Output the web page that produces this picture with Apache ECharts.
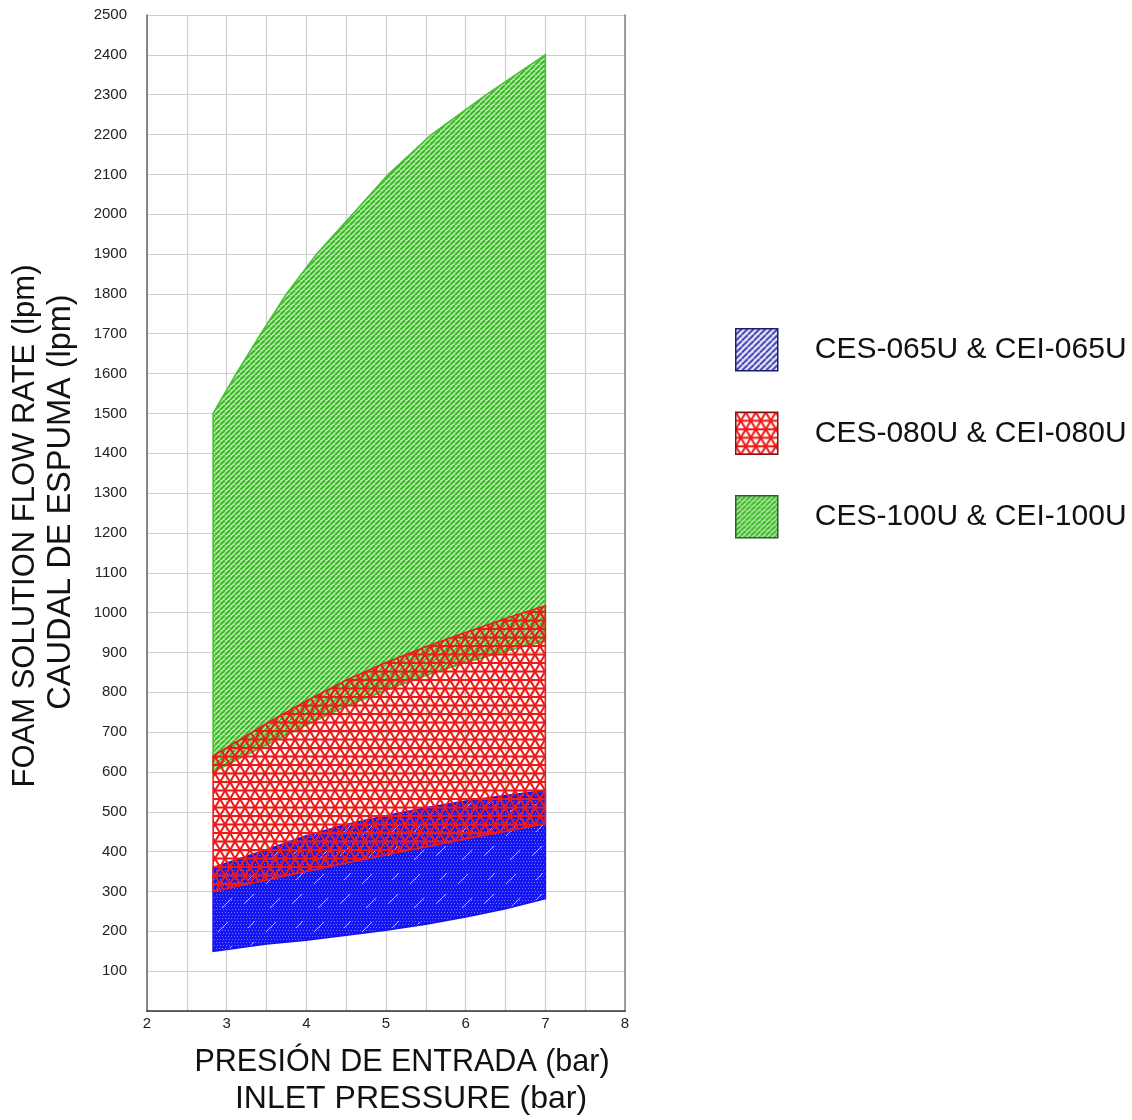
<!DOCTYPE html>
<html><head><meta charset="utf-8">
<script src="https://cdn.jsdelivr.net/npm/echarts@6/dist/echarts.min.js"></script>
<style>html,body{margin:0;padding:0;background:#fff}#c{width:1132px;height:1120px}</style>
</head><body><div id="c"></div>
<script>
// ---- data ----
const seriesNames = ['CES-065U & CEI-065U', 'CES-080U & CEI-080U', 'CES-100U & CEI-100U'];
// [inlet pressure (bar), flow (lpm)]
const blueTop    = [[2.83,360],[3.5,405],[4,440],[4.5,468],[5,490],[5.5,510],[6,527],[6.5,541],[7,553]];
const blueBottom = [[2.83,150],[3.5,168],[4,178],[4.5,190],[5,203],[5.5,218],[6,236],[6.5,257],[7,282]];
const redTop     = [[2.83,640],[3.5,722],[4,778],[4.5,830],[5,875],[5.5,914],[6,950],[6.5,985],[7,1017]];
const redBottom  = [[2.83,300],[4,350],[5,392],[6,432],[7,470]];
const greenTop   = [[2.83,1500],[3.12,1600],[3.43,1700],[3.75,1800],[4.13,1900],[4.58,2000],[5.03,2100],[5.57,2200],[6.26,2300],[7,2400]];
const greenBottom= [[2.83,600],[3.5,668],[4,718],[4.5,765],[5,805],[5.5,842],[6,875],[6.5,903],[7,929]];
const xTickLabels = ['2','3','4','5','6','7','8'];
const yTickLabels = ['100','200','300','400','500','600','700','800','900','1000','1100','1200','1300','1400','1500','1600','1700','1800','1900','2000','2100','2200','2300','2400','2500'];
const xTitleLines = ['PRESIÓN DE ENTRADA (bar)', 'INLET PRESSURE (bar)'];
const yTitleLines = ['FOAM SOLUTION FLOW RATE (lpm)', 'CAUDAL DE ESPUMA (lpm)'];

// ---- hatch patterns ----
function makeCanvas(w, h, draw) {
  const c = document.createElement('canvas'); c.width = w; c.height = h;
  draw(c.getContext('2d'), w, h); return c;
}
const greenCanvas = makeCanvas(5, 5, (g, w, h) => {
  g.fillStyle = '#cdeec4'; g.fillRect(0, 0, w, h);
  g.strokeStyle = '#3dbd28'; g.lineWidth = 2.3;
  for (let k = -1; k <= 1; k++) { g.beginPath(); g.moveTo(k * w, h); g.lineTo(k * w + w, 0); g.stroke(); }
});
const redCanvas = makeCanvas(10, 17, (g, w, h) => {
  g.strokeStyle = '#ee1a1a'; g.lineWidth = 2.1;
  [[0,0,w,0],[0,h/2,w,h/2],[0,h,w,h],[0,h,w,0],[0,0,w,h]].forEach(l => {
    g.beginPath(); g.moveTo(l[0], l[1]); g.lineTo(l[2], l[3]); g.stroke();
  });
});
const blueCanvas = makeCanvas(48, 48, (g, w, h) => {
  g.fillStyle = '#1616f0'; g.fillRect(0, 0, w, h);
  g.fillStyle = 'rgba(255,255,255,0.4)';
  for (let y = 0; y < h; y += 3) for (let x = (y / 3) % 2 ? 1.5 : 0; x < w; x += 3) g.fillRect(Math.floor(x), y, 1, 1);
  g.strokeStyle = 'rgba(225,225,255,0.75)'; g.lineWidth = 1;
  [[4,40,14,30],[26,20,36,10],[30,44,40,34],[8,16,15,9]].forEach(l => {
    g.beginPath(); g.moveTo(l[0], l[1]); g.lineTo(l[2], l[3]); g.stroke();
  });
});
const legendBlueCanvas = makeCanvas(6, 6, (g, w, h) => {
  g.fillStyle = '#e6e6fa'; g.fillRect(0, 0, w, h);
  g.strokeStyle = '#2a2aa8'; g.lineWidth = 1.7;
  for (let k = -1; k <= 1; k++) { g.beginPath(); g.moveTo(k * w, h); g.lineTo(k * w + w, 0); g.stroke(); }
});
const pat = c => ({ image: c, repeat: 'repeat' });

function ring(top, bottom) { return top.concat(bottom.slice().reverse()); }
function bandSeries(name, top, bottom, fill, stroke, z) {
  const pts = ring(top, bottom);
  return {
    type: 'custom', name: name, coordinateSystem: 'cartesian2d', z: z, clip: true, silent: true,
    data: pts, encode: { x: 0, y: 1 },
    itemStyle: { color: fill, borderColor: stroke },
    renderItem: function (params, api) {
      if (params.dataIndex !== 0) return null;
      return {
        type: 'polygon',
        shape: { points: pts.map(d => api.coord(d)) },
        style: { fill: fill, stroke: stroke, lineWidth: 1.6 }
      };
    }
  };
}

const FONT = 'Liberation Sans, Arial, sans-serif';
const chart = echarts.init(document.getElementById('c'), null, { renderer: 'canvas' });
chart.setOption({
  animation: false,
  backgroundColor: '#ffffff',
  grid: { left: 147, right: 507, top: 15, bottom: 108.5, containLabel: false },
  xAxis: {
    type: 'value', min: 2, max: 8, interval: 0.5,
    name: '{a|' + xTitleLines[0] + '}\n{b|' + xTitleLines[1] + '}',
    nameLocation: 'middle', nameGap: 34,
    nameTextStyle: {
      color: '#111', fontFamily: FONT,
      rich: {
        a: { fontSize: 30.5, lineHeight: 36, color: '#111', fontFamily: FONT, padding: [0, 0, 0, 32] },
        b: { fontSize: 32, lineHeight: 36, color: '#111', fontFamily: FONT, padding: [0, 0, 0, 50] }
      }
    },
    axisLine: { show: true, onZero: false, lineStyle: { color: '#333', width: 1.6 } },
    axisTick: { show: false },
    axisLabel: { fontSize: 15, color: '#222', fontFamily: FONT, margin: 5,
      formatter: v => xTickLabels.includes(String(v)) ? String(v) : '' },
    splitLine: { show: true, lineStyle: { color: '#cfcfcf', width: 1.2 } }
  },
  yAxis: [{
    type: 'value', min: 0, max: 2500, interval: 100,
    name: '{a|' + yTitleLines[0] + '}\n{b|' + yTitleLines[1] + '}',
    nameLocation: 'middle', nameRotate: 90, nameGap: 68,
    nameTextStyle: {
      color: '#111', fontFamily: FONT,
      rich: {
        a: { fontSize: 31, lineHeight: 36, color: '#111', fontFamily: FONT, padding: [0, 26, 0, 0] },
        b: { fontSize: 32.5, lineHeight: 36, color: '#111', fontFamily: FONT, padding: [0, 0, 0, 22] }
      }
    },
    axisLine: { show: true, onZero: false, lineStyle: { color: '#6e6e6e', width: 1.6 } },
    axisTick: { show: false },
    axisLabel: { fontSize: 15, color: '#222', fontFamily: FONT, margin: 20,
      formatter: v => yTickLabels.includes(String(v)) ? String(v) : '' },
    splitLine: { show: true, lineStyle: { color: '#cfcfcf', width: 1.2 } }
  }, {
    type: 'value', min: 0, max: 2500, interval: 100, position: 'right',
    axisLine: { show: true, onZero: false, lineStyle: { color: '#8a8a8a', width: 1.6 } },
    axisTick: { show: false }, axisLabel: { show: false }, splitLine: { show: false }
  }],
  legend: {
    orient: 'vertical', left: 730, top: 323, itemWidth: 42, itemHeight: 42, itemGap: 40,
    icon: 'rect', selectedMode: false,
    textStyle: { fontSize: 30, color: '#111', fontFamily: FONT, padding: [0, 0, 0, 32] },
    data: [
      { name: seriesNames[0], itemStyle: { color: pat(legendBlueCanvas), borderColor: '#1c1c70', borderWidth: 1.5 } },
      { name: seriesNames[1], itemStyle: { color: pat(redCanvas), borderColor: '#8a1010', borderWidth: 1.5 } },
      { name: seriesNames[2], itemStyle: { color: pat(greenCanvas), borderColor: '#2f5f28', borderWidth: 1.5 } }
    ]
  },
  series: [
    bandSeries(seriesNames[0], blueTop, blueBottom, pat(blueCanvas), '#1414e8', 2),
    bandSeries(seriesNames[2], greenTop, greenBottom, pat(greenCanvas), '#46c132', 3),
    bandSeries(seriesNames[1], redTop, redBottom, pat(redCanvas), '#ec1c1c', 4)
  ]
});
</script></body></html>
